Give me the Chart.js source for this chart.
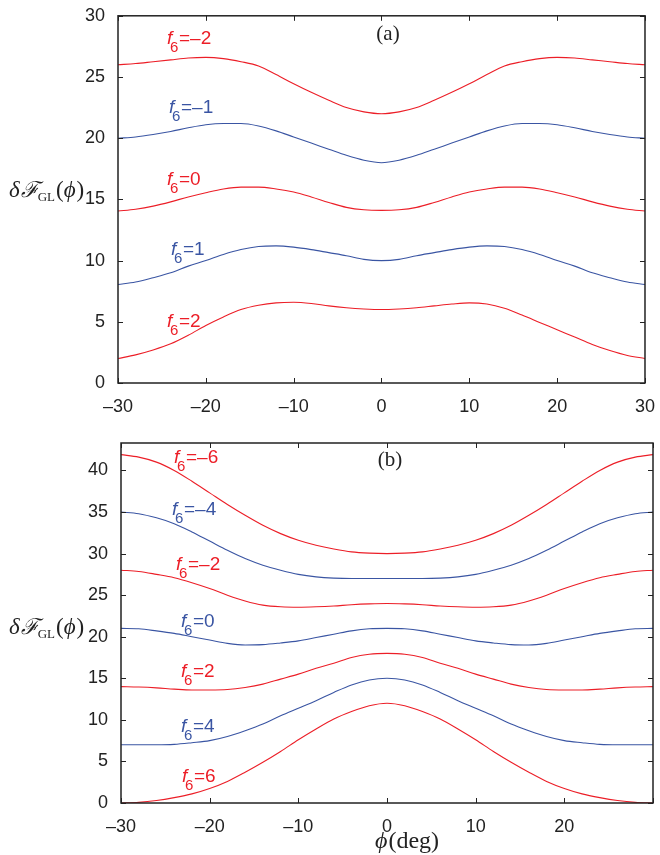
<!DOCTYPE html>
<html>
<head>
<meta charset="utf-8">
<script src="https://cdn.jsdelivr.net/npm/chart.js@4.4.1/dist/chart.umd.min.js"></script>
<style>
    html, body { margin: 0; padding: 0; background: #fff; }
    canvas { position: absolute; left: 0; }
    #chartA { top: 0; }
    #chartB { top: 420px; }
</style>
</head>
<body>
<canvas id="chartA" width="660" height="420"></canvas>
<canvas id="chartB" width="660" height="435"></canvas>
<script>
// phi (deg) sample points, shared by both panels
const phi = [-30, -28, -26, -24, -22, -20, -18, -16, -14, -12, -10, -8, -6, -4, -2, 0,
             2, 4, 6, 8, 10, 12, 14, 16, 18, 20, 22, 24, 26, 28, 30];

// panel (a)
const aF6m2 = [26.0, 26.1, 26.25, 26.4, 26.55, 26.6, 26.5, 26.25, 25.9, 25.2, 24.45, 23.75, 23.1, 22.5, 22.15, 22.0,
               22.15, 22.5, 23.1, 23.75, 24.45, 25.2, 25.9, 26.25, 26.5, 26.6, 26.55, 26.4, 26.25, 26.1, 26.0];
const aF6m1 = [20.0, 20.1, 20.3, 20.55, 20.85, 21.1, 21.2, 21.2, 21.0, 20.6, 20.1, 19.6, 19.1, 18.6, 18.2, 18.0,
               18.2, 18.6, 19.1, 19.6, 20.1, 20.6, 21.0, 21.2, 21.2, 21.1, 20.85, 20.55, 20.3, 20.1, 20.0];
const aF6p0 = [14.05, 14.2, 14.45, 14.8, 15.2, 15.55, 15.85, 16.0, 16.0, 15.85, 15.6, 15.2, 14.75, 14.35, 14.15, 14.1,
               14.15, 14.35, 14.75, 15.2, 15.6, 15.85, 16.0, 16.0, 15.85, 15.55, 15.2, 14.8, 14.45, 14.2, 14.05];
const aF6p1 = [8.05, 8.25, 8.6, 9.0, 9.55, 10.0, 10.5, 10.9, 11.15, 11.2, 11.1, 10.9, 10.65, 10.4, 10.1, 10.0,
               10.1, 10.4, 10.65, 10.9, 11.1, 11.2, 11.15, 10.9, 10.5, 10.0, 9.55, 9.0, 8.6, 8.25, 8.05];
const aF6p2 = [2.0, 2.3, 2.7, 3.2, 3.9, 4.7, 5.4, 6.0, 6.35, 6.55, 6.6, 6.5, 6.3, 6.15, 6.05, 6.0,
               6.05, 6.15, 6.3, 6.45, 6.55, 6.45, 6.1, 5.55, 4.95, 4.35, 3.75, 3.15, 2.65, 2.25, 2.0];

// panel (b)
const bF6m6 = [41.9, 41.6, 41.0, 40.0, 38.7, 37.3, 35.9, 34.6, 33.4, 32.4, 31.6, 31.0, 30.55, 30.2, 30.05, 30.0,
               30.05, 30.2, 30.55, 31.0, 31.6, 32.4, 33.4, 34.6, 35.9, 37.3, 38.7, 40.0, 41.0, 41.6, 41.9];
const bF6m4 = [35.0, 34.8, 34.3, 33.6, 32.6, 31.5, 30.4, 29.4, 28.6, 28.0, 27.5, 27.2, 27.05, 27.0, 27.0, 27.0,
               27.0, 27.0, 27.05, 27.2, 27.5, 28.0, 28.6, 29.4, 30.4, 31.5, 32.6, 33.6, 34.3, 34.8, 35.0];
const bF6m2 = [28.0, 27.85, 27.5, 27.1, 26.5, 25.8, 25.0, 24.3, 23.8, 23.6, 23.55, 23.6, 23.7, 23.85, 23.95, 24.0,
               23.95, 23.85, 23.7, 23.6, 23.55, 23.6, 23.8, 24.3, 25.0, 25.8, 26.5, 27.1, 27.5, 27.85, 28.0];
const bF6p0 = [21.0, 20.95, 20.7, 20.4, 20.0, 19.6, 19.2, 19.0, 19.05, 19.25, 19.5, 19.9, 20.3, 20.7, 20.95, 21.0,
               20.95, 20.7, 20.3, 19.9, 19.5, 19.25, 19.05, 19.0, 19.2, 19.6, 20.0, 20.4, 20.7, 20.95, 21.0];
const bF6p2 = [14.0, 13.95, 13.85, 13.7, 13.6, 13.6, 13.65, 13.9, 14.3, 14.9, 15.5, 16.2, 16.8, 17.5, 17.9, 18.0,
               17.9, 17.5, 16.8, 16.2, 15.5, 14.9, 14.3, 13.9, 13.65, 13.6, 13.6, 13.7, 13.85, 13.95, 14.0];
const bF6p4 = [7.0, 7.0, 7.0, 7.05, 7.25, 7.5, 8.0, 8.7, 9.5, 10.5, 11.4, 12.3, 13.3, 14.2, 14.8, 15.0,
               14.8, 14.2, 13.3, 12.3, 11.4, 10.5, 9.5, 8.7, 8.0, 7.5, 7.25, 7.05, 7.0, 7.0, 7.0];
const bF6p6 = [0.0, 0.08, 0.3, 0.65, 1.1, 1.75, 2.6, 3.7, 4.9, 6.2, 7.6, 8.9, 10.1, 11.0, 11.7, 12.0,
               11.7, 11.0, 10.1, 8.9, 7.6, 6.2, 4.9, 3.7, 2.6, 1.75, 1.1, 0.65, 0.3, 0.08, 0.0];

const xTicks = [-30, -20, -10, 0, 10, 20, 30];
const aYTicks = [0, 5, 10, 15, 20, 25, 30];
const bYTicks = [0, 5, 10, 15, 20, 25, 30, 35, 40];

const RED = '#ec1e27';
const BLUE = '#3a55a3';
const AXIS = '#222';

function series(values, color) {
    return {
        data: phi.map((x, i) => ({ x: x, y: values[i] })),
        borderColor: color,
        borderWidth: 1.1,
        pointRadius: 0,
        fill: false,
        cubicInterpolationMode: 'monotone'
    };
}

function dash(v) {
    return String(v).replace('-', '\u2013');
}

// f6 curve labels: italic f, subscript 6, then "=value"
function drawF6(ctx, x, y, text, color) {
    ctx.fillStyle = color;
    ctx.textAlign = 'left';
    ctx.textBaseline = 'alphabetic';
    ctx.font = 'italic 19px "Liberation Sans"';
    ctx.fillText('f', x, y);
    ctx.font = '15px "Liberation Sans"';
    ctx.fillText('6', x + 3, y + 8);
    ctx.font = '19px "Liberation Sans"';
    ctx.fillText(text, x + 12, y);
}

function drawYTitle(ctx, x, y) {
    ctx.fillStyle = AXIS;
    ctx.textAlign = 'left';
    ctx.textBaseline = 'alphabetic';
    let cx = x;
    ctx.font = 'italic 23px "Liberation Serif"';
    ctx.fillText('\u03b4', cx, y); cx += ctx.measureText('\u03b4').width + 1;
    ctx.font = 'italic 22px "DejaVu Serif"';
    ctx.fillText('\u2131', cx, y); cx += ctx.measureText('\u2131').width - 1;
    ctx.font = '13px "Liberation Serif"';
    ctx.fillText('GL', cx, y + 4); cx += ctx.measureText('GL').width + 1;
    ctx.font = '23px "Liberation Serif"';
    ctx.fillText('(', cx, y); cx += ctx.measureText('(').width;
    ctx.font = 'italic 23px "Liberation Serif"';
    ctx.fillText('\u03d5', cx, y); cx += ctx.measureText('\u03d5').width + 1;
    ctx.font = '23px "Liberation Serif"';
    ctx.fillText(')', cx, y);
}

// box with inward ticks, like the original plot
function framePlugin(yTicks) {
    return {
        id: 'frame',
        afterDatasetsDraw(chart) {
            const { ctx, chartArea: a, scales } = chart;
            ctx.save();
            ctx.strokeStyle = AXIS;
            ctx.lineWidth = 1.5;
            ctx.strokeRect(a.left, a.top, a.right - a.left, a.bottom - a.top);
            ctx.lineWidth = 1;
            ctx.beginPath();
            xTicks.forEach(v => {
                const px = Math.round(scales.x.getPixelForValue(v)) + 0.5;
                ctx.moveTo(px, a.bottom); ctx.lineTo(px, a.bottom - 5);
                ctx.moveTo(px, a.top); ctx.lineTo(px, a.top + 5);
            });
            yTicks.forEach(v => {
                const py = Math.round(scales.y.getPixelForValue(v)) + 0.5;
                ctx.moveTo(a.left, py); ctx.lineTo(a.left + 5, py);
                ctx.moveTo(a.right, py); ctx.lineTo(a.right - 5, py);
            });
            ctx.stroke();
            ctx.restore();
        }
    };
}

function textPlugin(draw) {
    return {
        id: 'texts',
        afterDraw(chart) {
            const ctx = chart.ctx;
            ctx.save();
            draw(chart, ctx);
            ctx.restore();
        }
    };
}

function options(yMax, yTicks, yWidth, xHeight, pad, hide30) {
    return {
        responsive: false,
        animation: false,
        layout: { padding: pad },
        plugins: { legend: { display: false }, tooltip: { enabled: false } },
        scales: {
            x: {
                type: 'linear', min: -30, max: 30,
                afterFit: s => { s.height = xHeight; },
                afterBuildTicks: s => { s.ticks = xTicks.map(v => ({ value: v })); },
                grid: { display: false },
                border: { display: false },
                ticks: {
                    padding: 5,
                    color: AXIS,
                    font: { family: '"Liberation Sans"', size: 18 },
                    maxRotation: 0,
                    callback: v => (hide30 && v === 30) ? '' : dash(v)
                }
            },
            y: {
                min: 0, max: yMax,
                afterFit: s => { s.width = yWidth; },
                afterBuildTicks: s => { s.ticks = yTicks.map(v => ({ value: v })); },
                grid: { display: false },
                border: { display: false },
                ticks: {
                    padding: 5,
                    color: AXIS,
                    font: { family: '"Liberation Sans"', size: 18 },
                    callback: v => dash(v)
                }
            }
        }
    };
}

new Chart(document.getElementById('chartA').getContext('2d'), {
    type: 'line',
    data: {
        datasets: [
            series(aF6m2, RED),
            series(aF6m1, BLUE),
            series(aF6p0, RED),
            series(aF6p1, BLUE),
            series(aF6p2, RED)
        ]
    },
    options: options(30, aYTicks, 118, 37, { left: 0, right: 9, top: 13, bottom: 0 }, false),
    plugins: [framePlugin(aYTicks), textPlugin((chart, ctx) => {
        drawF6(ctx, 167, 44, '=\u20132', RED);
        drawF6(ctx, 169, 113, '=\u20131', BLUE);
        drawF6(ctx, 167, 185, '=0', RED);
        drawF6(ctx, 171, 255, '=1', BLUE);
        drawF6(ctx, 167, 327, '=2', RED);
        ctx.fillStyle = AXIS;
        ctx.font = '21px "Liberation Serif"';
        ctx.textAlign = 'center';
        ctx.fillText('(a)', 388, 40);
        drawYTitle(ctx, 9, 197);
    })]
});

new Chart(document.getElementById('chartB').getContext('2d'), {
    type: 'line',
    data: {
        datasets: [
            series(bF6m6, RED),
            series(bF6m4, BLUE),
            series(bF6m2, RED),
            series(bF6p0, BLUE),
            series(bF6p2, RED),
            series(bF6p4, BLUE),
            series(bF6p6, RED)
        ]
    },
    options: options(43.3, bYTicks, 121, 52, { left: 0, right: 7, top: 23, bottom: 0 }, true),
    plugins: [framePlugin(bYTicks), textPlugin((chart, ctx) => {
        drawF6(ctx, 174, 43, '=\u20136', RED);
        drawF6(ctx, 172, 95, '=\u20134', BLUE);
        drawF6(ctx, 176, 150, '=\u20132', RED);
        drawF6(ctx, 181, 207, '=0', BLUE);
        drawF6(ctx, 181, 257, '=2', RED);
        drawF6(ctx, 181, 312, '=4', BLUE);
        drawF6(ctx, 182, 362, '=6', RED);
        ctx.fillStyle = AXIS;
        ctx.font = '21px "Liberation Serif"';
        ctx.textAlign = 'center';
        ctx.fillText('(b)', 390, 46);
        drawYTitle(ctx, 9, 214);
        // x axis title
        ctx.textAlign = 'left';
        ctx.font = 'italic 24px "Liberation Serif"';
        ctx.fillText('\u03d5', 375, 428);
        const w = ctx.measureText('\u03d5').width;
        ctx.font = '24px "Liberation Serif"';
        ctx.fillText('(deg)', 375 + w + 1, 428);
    })]
});
</script>
</body>
</html>
